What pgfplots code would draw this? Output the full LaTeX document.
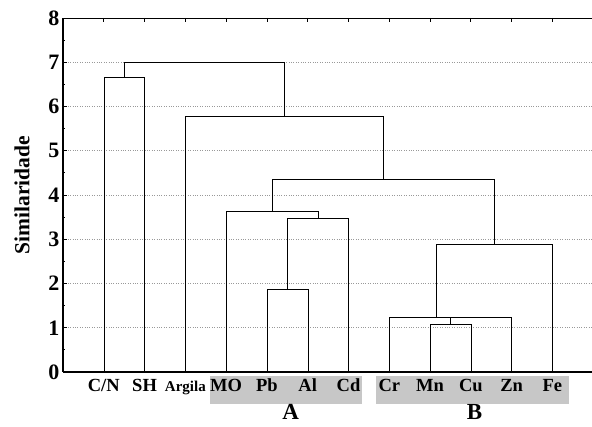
\documentclass[border=0pt]{standalone}
\usepackage{fontspec}
\setmainfont{Liberation Serif}
\usepackage{pgfplots}
\pgfplotsset{compat=1.18}
\begin{document}
\begin{tikzpicture}
\begin{axis}[
    name=ax,
    set layers,
    width=529pt, height=354pt, scale only axis,
    xmin=0, xmax=12.97, ymin=0, ymax=8,
    clip=false,
    axis x line=box, axis y line*=left,
    x axis line style={line width=0.8pt},
    y axis line style={line width=1.6pt},
    xtick={1,...,12},
    xticklabels={C/N,SH,{\fontsize{15}{15}\selectfont Argila},MO,Pb,Al,Cd,Cr,Mn,Cu,Zn,Fe},
    xtick pos=upper, xticklabel pos=lower,
    xticklabel style={font=\bfseries\fontsize{18.5}{18.5}\selectfont, anchor=base, yshift=-20pt},
    ytick={0,...,8}, minor y tick num=1,
    yticklabel style={font=\bfseries\fontsize{22}{22}\selectfont},
    /pgf/number format/assume math mode=true,
    tick align=inside,
    major tick length=4pt, minor tick length=2.5pt,
    tick style={black, line width=0.8pt},
    ymajorgrids,
    major grid style={dotted, black!40, line width=0.8pt},
    ylabel={Similaridade},
    ylabel style={font=\bfseries\fontsize{21.5}{21.5}\selectfont},
    ylabel shift=12pt,
    cycle list={{black, solid, line width=1.1pt, mark=none}},
]
% grupos A e B
\begin{pgfonlayer}{axis background}
\fill[black!22] (axis cs:3.60,-0.09) rectangle (axis cs:7.32,-0.72);
\fill[black!22] (axis cs:7.67,-0.09) rectangle (axis cs:12.40,-0.72);
\end{pgfonlayer}
\draw[line width=1.8pt] (axis cs:0,0) -- (axis cs:12.97,0);

\addplot coordinates {(1,0) (1,6.67) (2,6.67) (2,0)};
\addplot coordinates {(5,0) (5,1.87) (6,1.87) (6,0)};
\addplot coordinates {(5.5,1.87) (5.5,3.47) (7,3.47) (7,0)};
\addplot coordinates {(4,0) (4,3.64) (6.25,3.64) (6.25,3.47)};
\addplot coordinates {(9,0) (9,1.07) (10,1.07) (10,0)};
\addplot coordinates {(8,0) (8,1.24) (11,1.24) (11,0)};
\addplot coordinates {(9.5,1.07) (9.5,1.24)};
\addplot coordinates {(9.14,1.24) (9.14,2.89) (12,2.89) (12,0)};
\addplot coordinates {(5.125,3.64) (5.125,4.35) (10.57,4.35) (10.57,2.89)};
\addplot coordinates {(3,0) (3,5.77) (7.85,5.77) (7.85,4.35)};
\addplot coordinates {(1.5,6.67) (1.5,7.0) (5.42,7.0) (5.42,5.77)};

\node[font=\bfseries\fontsize{23}{23}\selectfont, anchor=base, inner sep=0pt] at (axis cs:5.58,-1.08) {A};
\node[font=\bfseries\fontsize{23}{23}\selectfont, anchor=base, inner sep=0pt] at (axis cs:10.09,-1.08) {B};
\end{axis}
\pgfresetboundingbox
\path ([shift={(-63pt,-55pt)}]ax.south west) rectangle ([shift={(0pt,18pt)}]ax.north east);
\end{tikzpicture}
\end{document}
